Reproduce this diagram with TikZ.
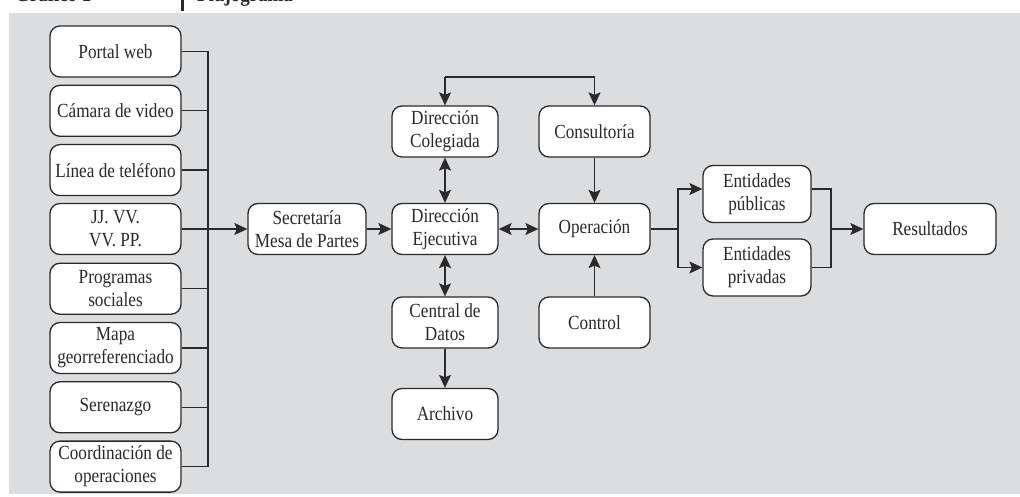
\documentclass[tikz,border=0pt]{standalone}
\usepackage{fontspec}
\setmainfont{Liberation Serif}[FakeStretch=0.86]
\usetikzlibrary{arrows.meta}
\definecolor{panel}{HTML}{DCDDDF}
\definecolor{ink}{HTML}{2A2A2A}

\begin{document}
\begin{tikzpicture}[x=1pt,y=-1pt,
  box/.style={draw=ink, line width=1.3pt, fill=white, rounded corners=10pt,
    minimum height=51pt, align=center, inner sep=1pt, text=ink,
    font=\fontsize{20}{23}\selectfont},
  srcbox/.style={box, minimum width=131pt},
  midbox/.style={box, minimum width=106pt},
  opbox/.style={box, minimum width=111pt},
  entbox/.style={box, minimum width=108pt, minimum height=57pt},
  link/.style={draw=ink, line width=1.3pt},
  head/.style={anchor=base west, inner sep=0pt, text=ink,
    font=\fontsize{22}{24}\selectfont\bfseries}]
\tikzset{
  arrowtip/.tip={Stealth[length=13pt,width=12pt,inset=2.5pt]},
  tip/.style={link, -arrowtip},
  both/.style={link, arrowtip-arrowtip}}

\useasboundingbox (0,0) rectangle (1020,497);

% title strip (only its lower edge falls inside the page)
\node[head] (gtitle) at (15,1.5) {Gráfico 1};
\node[head] (ftitle) at (197,1.5) {Flujograma};
\draw[ink, line width=3pt] (182,-6) -- (182,11);

% grey panel
\fill[panel] (9,13) rectangle (1020,494);

% input sources
\node[srcbox] (portal) at (115.5,51.5)  {Portal web};
\node[srcbox] (camara) at (115.5,110.8) {Cámara de video};
\node[srcbox] (linea)  at (115.5,170.1) {Línea de teléfono};
\node[srcbox] (jjvv)   at (115.5,229)   {JJ. VV.\\VV. PP.};
\node[srcbox] (prog)   at (115.5,288.7) {Programas\\sociales};
\node[srcbox] (mapa)   at (115.5,348)   {Mapa\\georreferenciado};
\node[srcbox] (seren)  at (115.5,407.3) {Serenazgo};
\node[srcbox] (coord)  at (115.5,466.6) {Coordinación de\\operaciones};

% central flow
\node[box, minimum width=118pt] (secre) at (307,229) {Secretaría\\Mesa de Partes};
\node[midbox] (colegi) at (445,131.5) {Dirección\\Colegiada};
\node[midbox] (ejecu)  at (445,229)   {Dirección\\Ejecutiva};
\node[midbox] (datos)  at (445,322.5) {Central de\\Datos};
\node[midbox] (archi)  at (445,414)   {Archivo};
\node[opbox] (consul)  at (594.5,131.5) {Consultoría};
\node[opbox] (opera)   at (594.5,229)   {Operación};
\node[opbox] (contr)   at (594.5,322.5) {Control};
\node[entbox] (publ)   at (757,194)   {Entidades\\públicas};
\node[entbox] (priv)   at (757,267.5) {Entidades\\privadas};
\node[box, minimum width=132pt] (resul) at (930,229) {Resultados};

% collecting bus on the left
\coordinate (bus) at (208,0);
\foreach \n in {portal,camara,linea,prog,mapa,seren,coord}
  \draw[link] (\n.east) -- (\n.east -| bus);
\draw[link] (portal.east -| bus) -- (coord.east -| bus);
\draw[tip] (jjvv.east) -- (secre.west);

% direction links
\draw[tip] (secre.east) -- (ejecu.west);
\draw[both] (colegi.south) -- (ejecu.north);
\draw[both] (ejecu.south) -- (datos.north);
\draw[tip] (datos.south) -- (archi.north);
\draw[both] (ejecu.east) -- (opera.west);
\draw[tip] (consul.south) -- (opera.north);
\draw[tip] (contr.north) -- (opera.south);

\coordinate (topbar) at (0,77);
\draw[link] (topbar -| colegi.north) -- (topbar -| consul.north);
\draw[tip] (topbar -| colegi.north) -- (colegi.north);
\draw[tip] (topbar -| consul.north) -- (consul.north);

% split to entities and merge into results
\coordinate (split) at (678,229);
\coordinate (merge) at (831,229);
\draw[link] (opera.east) -- (split);
\draw[tip] (split) |- ([yshift=5pt]publ.west);
\draw[tip] (split) |- (priv.west);
\draw[link] ([yshift=5pt]publ.east) -| (merge);
\draw[link] (priv.east) -| (merge);
\draw[tip] (merge) -- (resul.west);

\end{tikzpicture}
\end{document}
